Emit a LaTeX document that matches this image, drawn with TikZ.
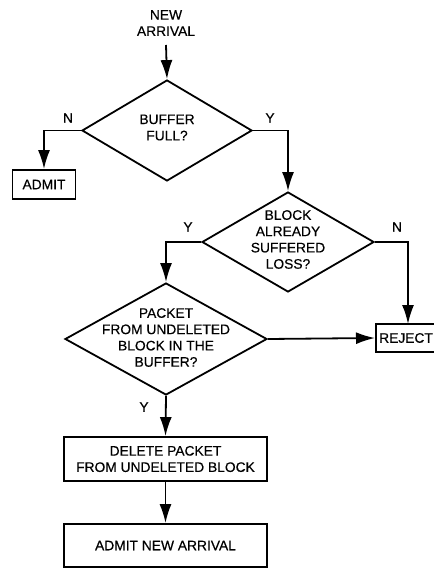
\documentclass[tikz,border=0pt]{standalone}
\usepackage{fontspec}
\setmainfont{Liberation Sans}[FakeBold=0.35]
\usetikzlibrary{shapes.geometric,arrows.meta}
\tikzset{
  x=1pt, y=-1pt,
  every node/.style={font=\fontsize{13.8}{16.3}\selectfont, align=center},
  flow/.style={line width=1.8pt},
  arr/.style={flow, -{Latex[length=19pt,width=12pt]}},
  decision/.style={draw, flow, diamond, inner sep=0pt},
  procbox/.style={draw, flow, rectangle, inner sep=0pt},
  lbl/.style={inner sep=0pt},
}
\begin{document}
\begin{tikzpicture}
\useasboundingbox (0,0) rectangle (433,569);

% start label
\node[inner sep=0pt] (start) at (166,23) {NEW\\ARRIVAL};
\coordinate (s0) at (166,45);

% decisions
\node[decision, minimum width=170pt, minimum height=101pt] (full) at (167,130.5) {};
\node at (167,127.5) {BUFFER\\FULL?};

\node[decision, minimum width=172pt, minimum height=100pt] (loss) at (288,242) {};
\node at (288,239.5) {BLOCK\\ALREADY\\SUFFERED\\LOSS?};

\node[decision, minimum width=202pt, minimum height=112pt] (pkt) at (166,339) {};
\node at (166,337.5) {PACKET\\FROM UNDELETED\\BLOCK IN THE\\BUFFER?};

% actions
\node[procbox, minimum width=63pt, minimum height=29pt] (admit) at (44,184.5) {ADMIT};
% the reject box runs past the right edge of the page
\node[procbox, anchor=west, minimum width=68pt, minimum height=28pt] (reject) at (375,338) {};
\node[inner sep=0pt, anchor=west] (rejecttxt) at ([xshift=4pt]reject.west) {REJECT};
\node[procbox, minimum width=203pt, minimum height=44pt] (del) at (165.5,459) {DELETE PACKET\\FROM UNDELETED BLOCK};
\node[procbox, minimum width=203pt, minimum height=43pt] (admitnew) at (165.5,545.5) {ADMIT NEW ARRIVAL};

% branch labels
\node[lbl] (n1) at (68,118) {N};
\node[lbl] (y1) at (270,118) {Y};
\node[lbl] (y2) at (188,227) {Y};
\node[lbl] (n2) at (397,227) {N};
\node[lbl] (y3) at (144,407) {Y};

% connectors
\coordinate (rj) at (408,324);
\draw[arr] (s0) -- (full.north);
\draw[arr] (full.west) -| (admit.north);
\draw[arr] (full.east) -| (loss.north);
\draw[arr] (loss.west) -| (pkt.north);
\draw[arr] (loss.east) -| (rj);
\draw[arr] (pkt.east) -- (reject.west);
\draw[arr] (pkt.south) -- (del.north);
\draw[arr] (del.south) -- (admitnew.north);
\end{tikzpicture}
\end{document}
